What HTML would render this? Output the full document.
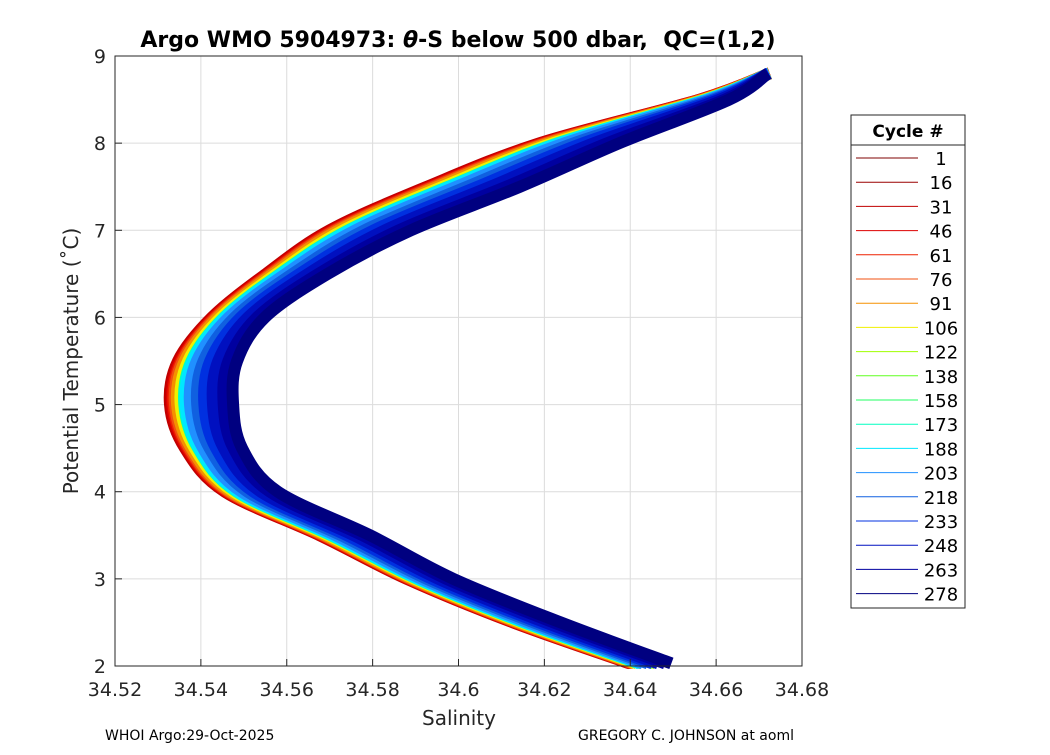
<!DOCTYPE html>
<html><head><meta charset="utf-8">
<style>
body{margin:0;background:#fff;font-family:"Liberation Sans","DejaVu Sans",sans-serif;}
svg text{font-family:"DejaVu Sans","Liberation Sans",sans-serif;}
</style></head>
<body>
<svg id="chart" width="1050" height="750" viewBox="0 0 1050 750">
<rect width="1050" height="750" fill="#fff"/>
<g id="grid"></g>
<g id="lines"></g>
<rect x="115" y="56" width="687" height="610" fill="none" stroke="#262626" stroke-width="1"/>
<g id="ticks"></g>
<text x="458" y="47" font-size="22" font-weight="bold" text-anchor="middle" fill="#000" xml:space="preserve" style="white-space:pre">Argo WMO 5904973: <tspan font-style="italic">θ</tspan>-S below 500 dbar,  QC=(1,2)</text>
<text x="459" y="725" font-size="20" text-anchor="middle" fill="#262626">Salinity</text>
<text transform="translate(78,361) rotate(-90)" font-size="20" text-anchor="middle" fill="#262626">Potential Temperature (˚C)</text>
<text x="105" y="740" font-size="14" fill="#000">WHOI Argo:29-Oct-2025</text>
<text x="578" y="740" font-size="14" fill="#000">GREGORY C. JOHNSON at aoml</text>
<g id="legend">
<rect x="851" y="115" width="114" height="493" fill="#fff" stroke="#262626"/>
<line x1="851" y1="145" x2="965" y2="145" stroke="#262626"/>
<text x="908" y="137" font-size="17" font-weight="bold" text-anchor="middle">Cycle #</text>
</g>
</svg>
<script>
const tempLevels=[2.03,2.5,3.0,3.5,4.0,4.5,5.0,5.5,6.0,6.5,7.0,7.5,8.0,8.5,8.8];
const salEarly=[34.6399,34.6127,34.5880,34.5677,34.5456,34.5363,34.5328,34.5347,34.5426,34.5552,34.5700,34.5927,34.6190,34.6562,34.6725];
const salLate=[34.6509,34.6253,34.6003,34.5810,34.5596,34.5514,34.5495,34.5503,34.5566,34.5715,34.5915,34.6173,34.6400,34.6640,34.6720];
const cycles=[1,16,31,46,61,76,91,106,122,138,158,173,188,203,218,233,248,263,278];
const cyclePos=[0.04,0.02,0.0,0.03,0.05,0.07,0.1,0.15,0.55,0.5,0.25,0.2,0.22,0.28,0.38,0.48,0.6,0.75,0.88];
const cycleColors=["#7f0000","#9a0000","#c00000","#dd0000","#ee2000","#f05010","#f59000","#f0f000","#a0ff00","#60ff20","#20ff60","#00ffc0","#00e8ff","#2090ff","#1060e0","#0030e0","#0010c0","#0000a0","#000080"];
const xTicks=[34.52,34.54,34.56,34.58,34.6,34.62,34.64,34.66,34.68];
const xTickLabels=["34.52","34.54","34.56","34.58","34.6","34.62","34.64","34.66","34.68"];
const yTicks=[2,3,4,5,6,7,8,9];

const NS="http://www.w3.org/2000/svg";
const X=s=>115+(s-34.52)/0.16*687;
const Y=t=>666-(t-2)/7*610;
function mk(tag,attrs,parent){const e=document.createElementNS(NS,tag);for(const k in attrs)e.setAttribute(k,attrs[k]);parent.appendChild(e);return e;}
function smooth(p){let d='M'+p[0][0].toFixed(1)+','+p[0][1].toFixed(1);
  for(let i=0;i<p.length-1;i++){const p0=p[i-1]||p[i],p1=p[i],p2=p[i+1],p3=p[i+2]||p2;
    const c1=[p1[0]+(p2[0]-p0[0])/6,p1[1]+(p2[1]-p0[1])/6],c2=[p2[0]-(p3[0]-p1[0])/6,p2[1]-(p3[1]-p1[1])/6];
    d+=' C'+c1[0].toFixed(1)+','+c1[1].toFixed(1)+' '+c2[0].toFixed(1)+','+c2[1].toFixed(1)+' '+p2[0].toFixed(1)+','+p2[1].toFixed(1);}
  return d;}
const grid=document.getElementById('grid'),ticks=document.getElementById('ticks'),lines=document.getElementById('lines'),legend=document.getElementById('legend');
xTicks.forEach((v,i)=>{
  const g=mk('line',{x1:X(v),x2:X(v),y1:56,y2:666,stroke:'#dcdcdc','stroke-width':1},grid);
  
  
  const tk=mk('line',{x1:X(v),x2:X(v),y1:666,y2:659,stroke:'#262626'},ticks);
  
  
  const t=mk('text',{x:X(v),y:696,'font-size':19,'text-anchor':'middle',fill:'#262626'},ticks);
  t.textContent=xTickLabels[i];
  
  
});
yTicks.forEach(v=>{
  const g=mk('line',{x1:115,x2:802,y1:Y(v),y2:Y(v),stroke:'#dcdcdc','stroke-width':1},grid);
  
  
  const tk=mk('line',{x1:115,x2:122,y1:Y(v),y2:Y(v),stroke:'#262626'},ticks);
  
  
  const t=mk('text',{x:106,y:Y(v)+7,'font-size':19,'text-anchor':'end',fill:'#262626'},ticks);
  t.textContent=String(v);
  
  
});
cycles.forEach((c,i)=>{
  const f=cyclePos[i];
  const pts=tempLevels.map((t,j)=>[X(salEarly[j]+(salLate[j]-salEarly[j])*f),Y(t)]);
  const p=mk('path',{d:smooth(pts),fill:'none',stroke:cycleColors[i],'stroke-width':12,'stroke-linejoin':'round','stroke-linecap':'butt'},lines);
  
  
  const ly=158+i*24.2;
  const l=mk('line',{x1:856,x2:918,y1:ly,y2:ly,stroke:cycleColors[i],'stroke-width':1},legend);
  
  
  const t=mk('text',{x:941,y:ly+7,'font-size':18,'text-anchor':'middle',fill:'#000'},legend);
  t.textContent=String(c);
  
  
});
</script>
</body></html>
